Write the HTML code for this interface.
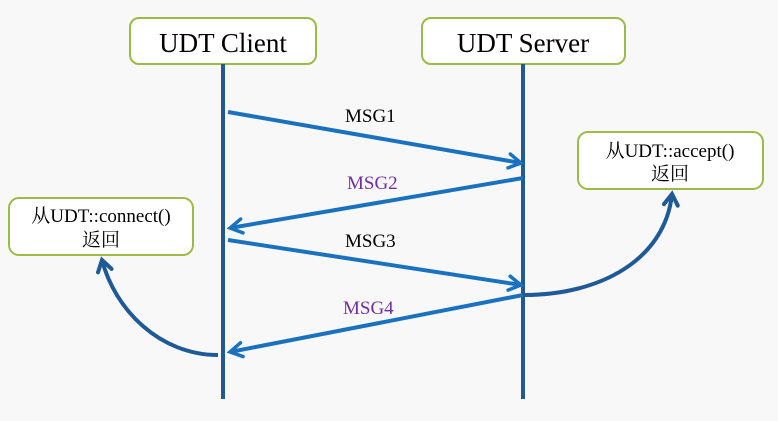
<!DOCTYPE html>
<html><head><meta charset="utf-8"><style>
body{margin:0;background:#f8f8f8;}
svg{display:block;font-family:"Liberation Serif","Noto Serif CJK SC",serif;}
</style></head><body>
<svg width="778" height="421" viewBox="0 0 778 421">
<defs>
<marker id="a" markerWidth="18" markerHeight="18" refX="15" refY="9" orient="auto" markerUnits="userSpaceOnUse" viewBox="0 0 18 18">
<path d="M3,2 L15,9 L3,16" fill="none" stroke="#1a72bf" stroke-width="3.5" stroke-linecap="round"/></marker>
<marker id="b" markerWidth="18" markerHeight="18" refX="14" refY="9" orient="auto" markerUnits="userSpaceOnUse" viewBox="0 0 18 18">
<path d="M3,2 L14,9 L3,16" fill="none" stroke="#1f5a96" stroke-width="4" stroke-linecap="round"/></marker>
</defs>
<rect x="130" y="18" width="186" height="46" rx="9" fill="#fff" stroke="#9bbb45" stroke-width="2"/>
<text x="223" y="52" font-size="27" text-anchor="middle">UDT Client</text>
<rect x="422" y="18" width="203" height="46" rx="9" fill="#fff" stroke="#9bbb45" stroke-width="2"/>
<text x="523" y="52" font-size="27" text-anchor="middle">UDT Server</text>
<line x1="223" y1="64" x2="223" y2="399" stroke="#1f5a96" stroke-width="4"/>
<line x1="523" y1="64" x2="523" y2="399" stroke="#1f5a96" stroke-width="4"/>
<rect x="578" y="132" width="185" height="57" rx="10" fill="#fff" stroke="#9bbb45" stroke-width="2"/>
<text x="670" y="157" font-size="19" text-anchor="middle">从UDT::accept()</text>
<text x="670" y="180" font-size="19" text-anchor="middle">返回</text>
<rect x="9" y="198" width="184" height="57" rx="10" fill="#fff" stroke="#9bbb45" stroke-width="2"/>
<text x="101" y="222" font-size="19" text-anchor="middle">从UDT::connect()</text>
<text x="101" y="246" font-size="19" text-anchor="middle">返回</text>
<g stroke="#1a72bf" stroke-width="4" fill="none" marker-end="url(#a)">
<line x1="228" y1="112" x2="521" y2="163"/>
<line x1="523" y1="178" x2="230" y2="228"/>
<line x1="228" y1="240" x2="521" y2="285"/>
<line x1="523" y1="295" x2="230" y2="352"/>
</g>
<g stroke="#1f5a96" stroke-width="4" fill="none" marker-end="url(#b)">
<path d="M524,295 C600,295 665,260 672,194"/>
<path d="M218,355 C160,355 115,310 102,260"/>
</g>
<text x="345" y="122" font-size="19">MSG1</text>
<text x="347" y="189" font-size="19" fill="#7030a0">MSG2</text>
<text x="345" y="247" font-size="19">MSG3</text>
<text x="343" y="314" font-size="19" fill="#7030a0">MSG4</text>
</svg>
</body></html>
